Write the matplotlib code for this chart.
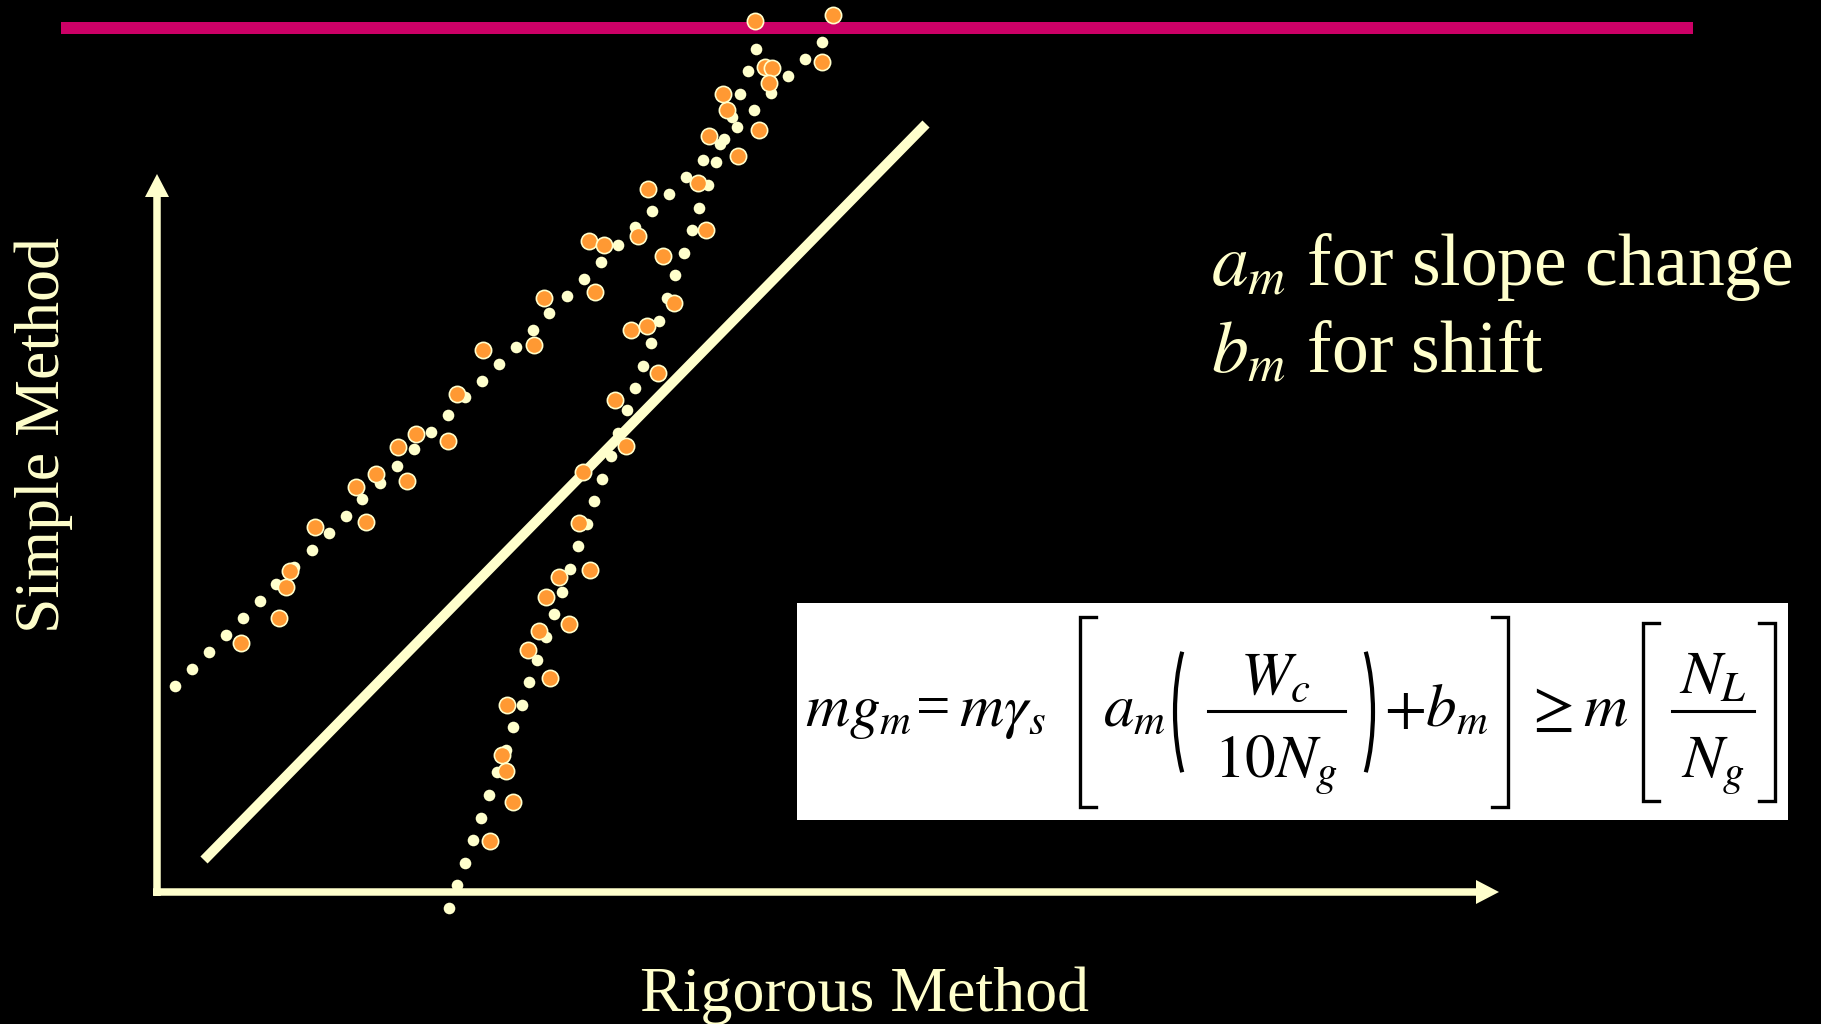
import matplotlib
matplotlib.use("Agg")
import matplotlib.pyplot as plt
from matplotlib.patches import Rectangle, FancyArrow, Arc

plt.rcParams["font.family"] = "Liberation Serif"
plt.rcParams["mathtext.fontset"] = "stix"

CREAM = "#FFFFCC"
ORANGE = "#FF9933"
MAGENTA = "#CC0066"

# simple-method points: upper (shifted) branch
shift_x = [18, 35, 52, 69, 86, 103, 119, 137, 155, 172, 189, 205, 223, 240, 257, 274, 291,
           308, 325, 342, 359, 376, 392, 410, 427, 444, 461, 478, 495, 512, 529, 546, 563,
           580, 597, 614, 631, 648, 665]
shift_y = [206, 223, 240, 257, 274, 291, 308, 325, 342, 359, 376, 393, 409, 426, 443, 460, 477,
           495, 511, 528, 545, 562, 579, 596, 613, 630, 647, 665, 681, 698, 715, 732, 748,
           765, 782, 799, 816, 833, 850]

# simple-method points: steep (slope) branch
slope_x = [292, 300, 308, 316, 324, 332, 340, 349, 356, 365, 372, 380, 389, 397, 405, 413, 421,
           430, 437, 445, 454, 461, 470, 478, 486, 494, 502, 510, 518, 527, 535, 542, 551,
           559, 567, 575, 583, 591, 599]
slope_y = [-16, 7, 29, 52, 74, 97, 120, 142, 165, 187, 210, 232, 255, 278, 300, 323, 346,
           368, 391, 413, 436, 459, 482, 504, 526, 549, 571, 594, 617, 639, 662, 684, 707,
           730, 753, 775, 798, 821, 843]

# scattered measurements
meas_x = [84, 122, 129, 133, 158, 199, 209, 219, 250, 241, 259, 291, 300, 326, 377, 387, 438,
          432, 447, 481, 491, 506, 517, 474, 490, 501, 458, 469, 426, 422, 433, 402, 389,
          412, 382, 371, 393, 350, 345, 349, 356, 333, 541, 549, 581, 552, 570, 602, 566,
          608, 615, 612, 665, 598, 676]
meas_y = [249, 274, 305, 321, 365, 405, 370, 418, 411, 445, 458, 451, 498, 542, 547, 594, 600,
          651, 647, 656, 703, 636, 589, 562, 566, 519, 492, 446, 420, 369, 322, 315, 295,
          268, 261, 242, 214, 187, 137, 121, 90, 51, 709, 662, 736, 756, 782, 762, 798,
          825, 824, 809, 830, 871, 877]

# one-to-one reference line
ref_x = [47, 769]
ref_y = [32, 768]

fig = plt.figure(figsize=(18.21, 10.24), dpi=100, facecolor="black")
ax = fig.add_axes([0, 0, 1, 1])
ax.set_xlim(-157, 1664)
ax.set_ylim(-132, 892)
ax.axis("off")

# header bar
ax.add_patch(Rectangle((-96, 858), 1632, 12, color=MAGENTA, lw=0, zorder=1))

# axes drawn as arrows
ax.add_patch(FancyArrow(0, -4, 0, 722, width=7.5, head_width=24, head_length=23,
                        length_includes_head=True, color=CREAM, lw=0, zorder=2))
ax.add_patch(FancyArrow(-4, 0, 1346, 0, width=7.5, head_width=24, head_length=23,
                        length_includes_head=True, color=CREAM, lw=0, zorder=2))

ax.plot(ref_x, ref_y, color=CREAM, lw=7.2, solid_capstyle="butt", zorder=2)

ax.scatter(shift_x, shift_y, s=70, color=CREAM, lw=0, zorder=3, clip_on=False)
ax.scatter(slope_x, slope_y, s=70, color=CREAM, lw=0, zorder=3, clip_on=False)
ax.scatter(meas_x, meas_y, s=137, color=ORANGE, edgecolors=CREAM, linewidths=1.2,
           zorder=4, clip_on=False)

ax.text(-113, 457, "Simple Method", rotation=90, ha="center", va="center",
        fontsize=46, color=CREAM)
ax.text(707, -119, "Rigorous Method", ha="center", va="baseline", fontsize=46, color=CREAM)

ax.text(1054, 607, r"$a_m$ for slope change", fontsize=53, color=CREAM, va="baseline")
ax.text(1054, 519, r"$b_m$ for shift", fontsize=53, color=CREAM, va="baseline")

# formula box, typeset piece by piece so the brackets can be tall
ax.add_patch(Rectangle((640, 72), 991, 217, color="white", lw=0, zorder=1))

EQ = dict(fontsize=44, color="black", va="baseline", zorder=5)
base = 166
ax.text(648, base, r"$mg_m$", ha="left", **EQ)
ax.text(776, base, "=", ha="center", **EQ)
ax.text(802, base, r"$m\gamma_s$", ha="left", **EQ)
ax.text(946, base, r"$a_m$", ha="left", **EQ)
ax.text(1227, base, r"$+b_m$", ha="left", **EQ)
ax.text(1367, base, r"$\geq m$", ha="left", **EQ)

# fractions
ax.text(1119, 198, r"$W_c$", ha="center", **EQ)
ax.text(1119, 114, r"$10N_g$", ha="center", **EQ)
ax.plot([1051, 1188], [181, 181], color="black", lw=2.2, zorder=5)
ax.text(1556, 198, r"$N_L$", ha="center", **EQ)
ax.text(1556, 114, r"$N_g$", ha="center", **EQ)
ax.plot([1515, 1597], [181, 181], color="black", lw=2.2, zorder=5)


def bracket(x, y0, y1, arm):
    ax.plot([x + arm, x, x, x + arm], [y1, y1, y0, y0], color="black", lw=2.4,
            solid_joinstyle="miter", zorder=5)


bracket(923, 85, 275, 16)
bracket(1351, 85, 275, -16)
bracket(1486, 91, 269, 16)
bracket(1618, 91, 269, -16)

# parentheses around the first fraction
ax.add_patch(Arc((1060, 180), 84, 215, theta1=120, theta2=240, color="black", lw=3.0, zorder=5))
ax.add_patch(Arc((1174, 180), 84, 215, theta1=-60, theta2=60, color="black", lw=3.0, zorder=5))

fig.savefig("out.png", dpi=100, facecolor="black")
